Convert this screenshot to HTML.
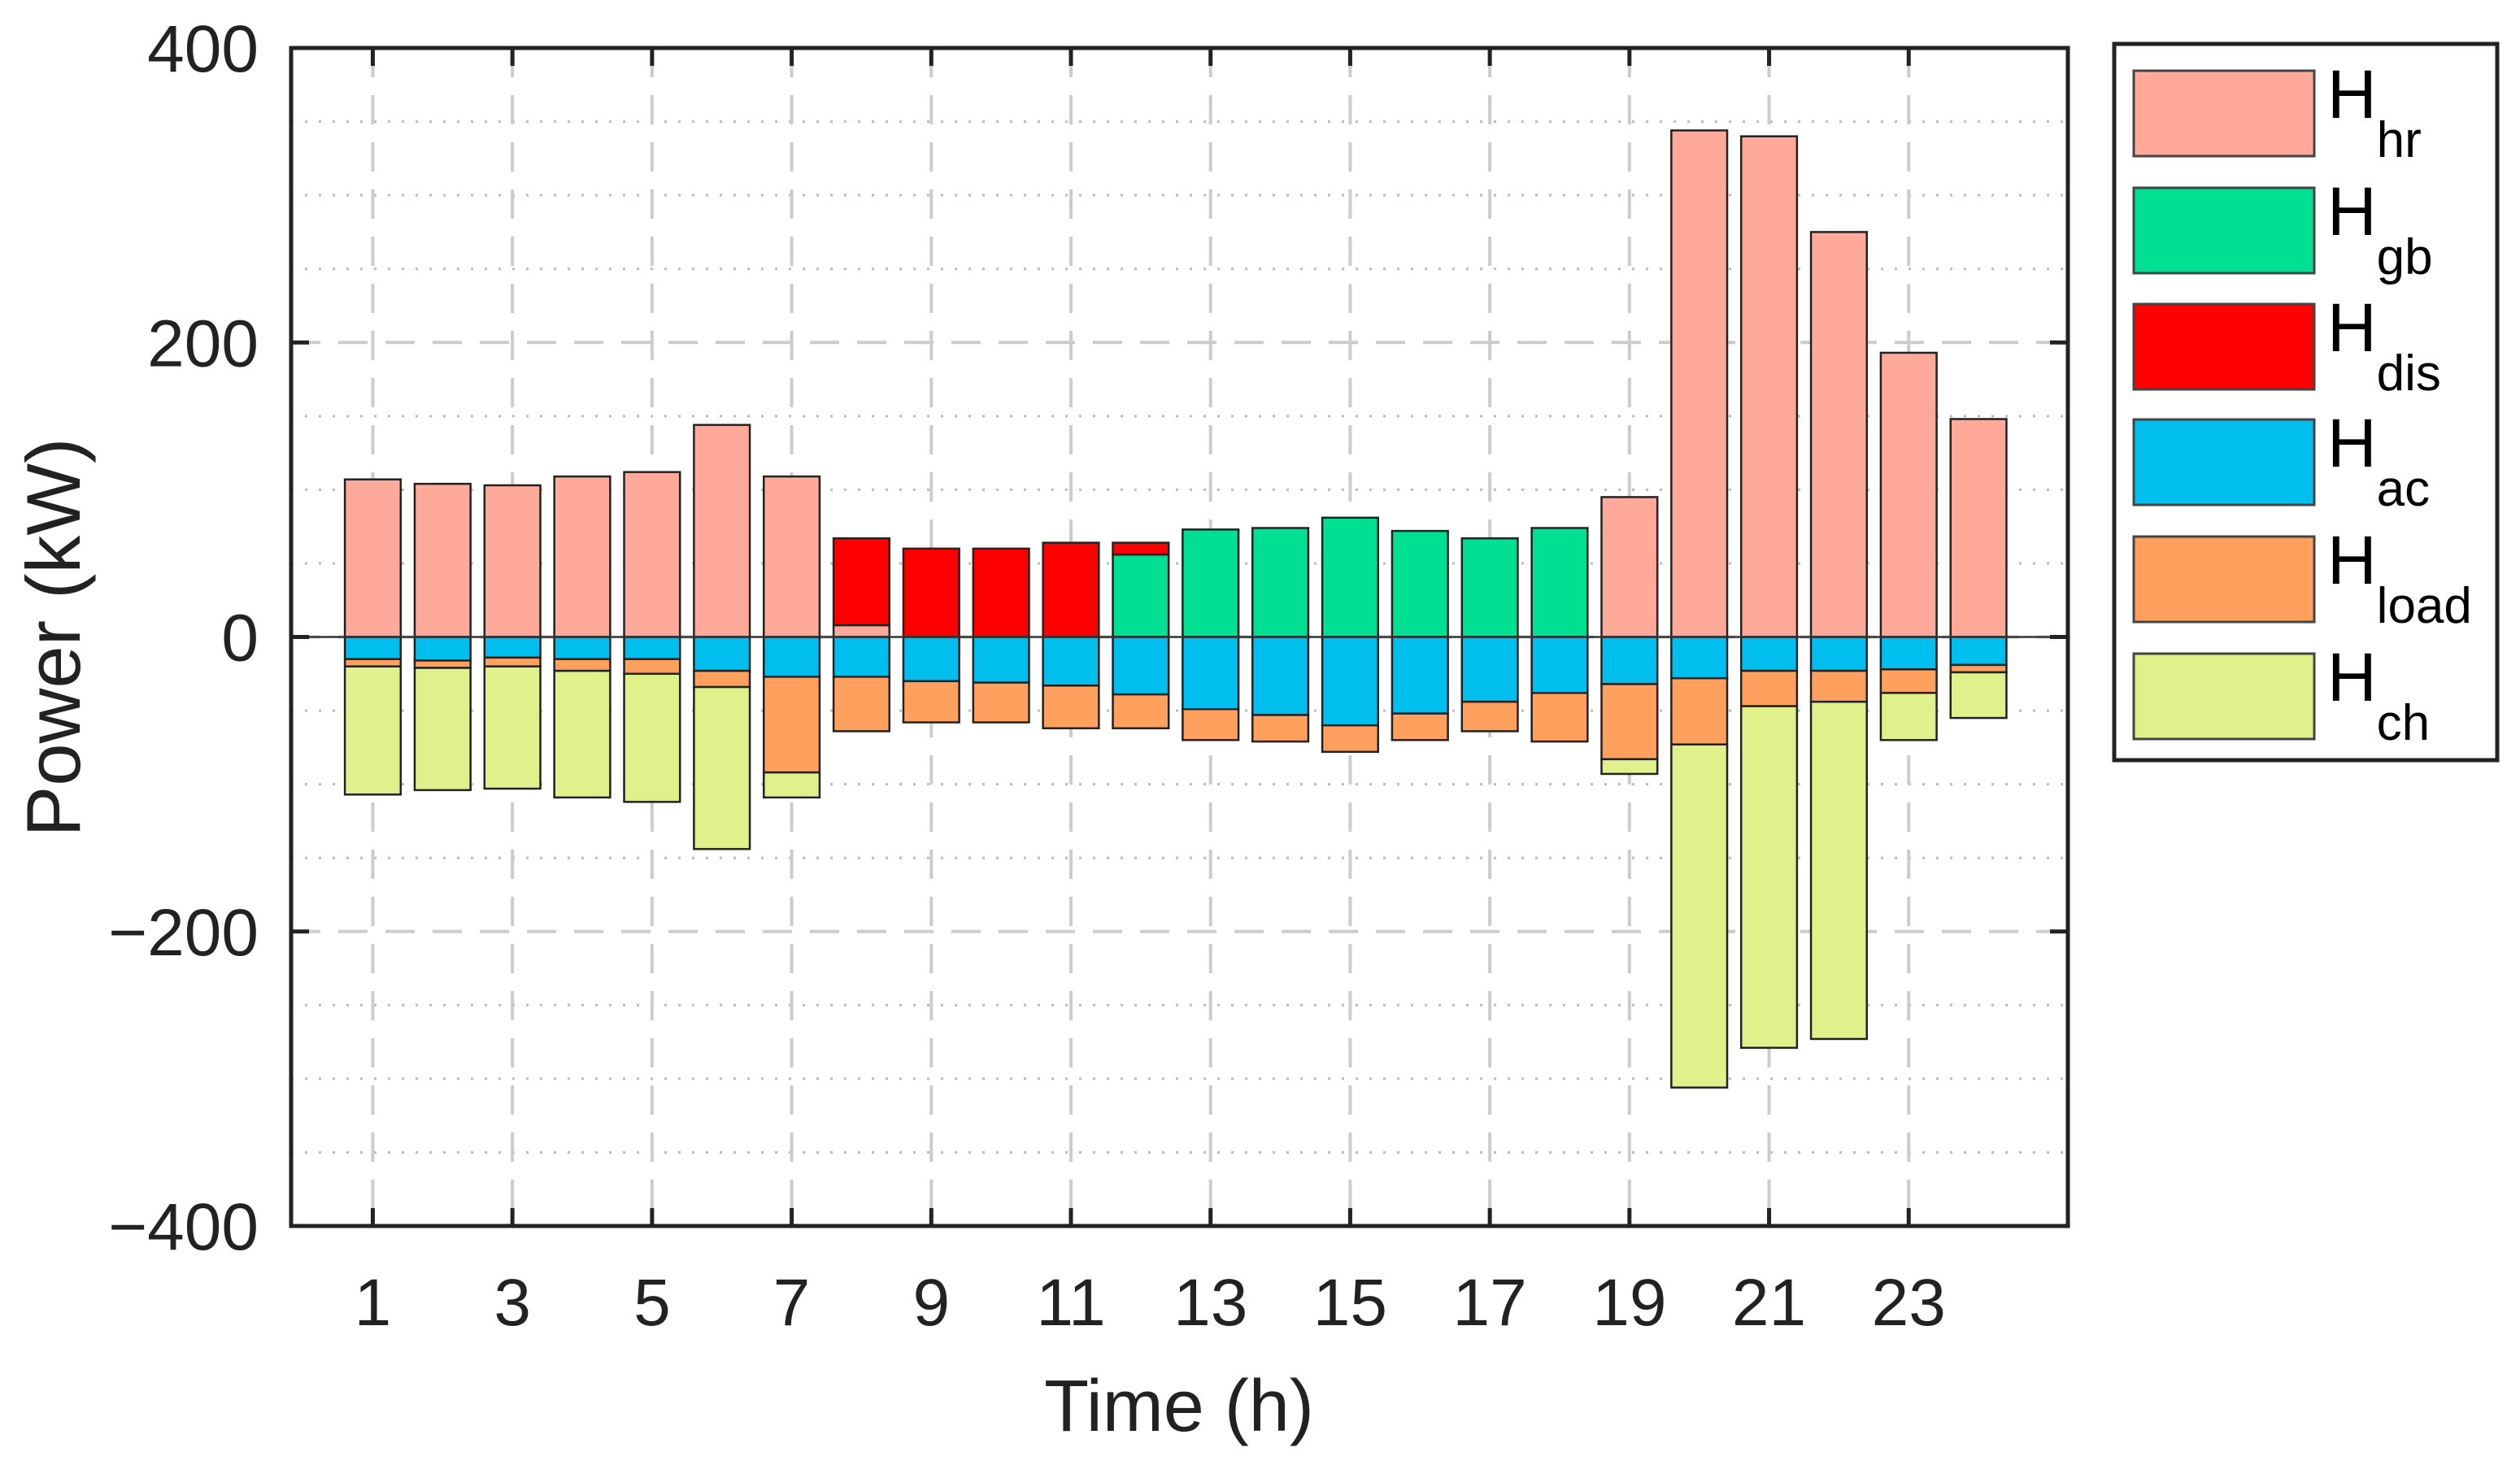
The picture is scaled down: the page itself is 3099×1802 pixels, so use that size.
<!DOCTYPE html>
<html><head><meta charset="utf-8"><style>
html,body{margin:0;padding:0;background:#fff}
svg{display:block;font-family:"Liberation Sans",Arial,sans-serif}
</style></head><body>
<svg id="chart" width="3099" height="1802" viewBox="0 0 3099 1802" xmlns="http://www.w3.org/2000/svg">
<g id="grid"></g>
<g id="bars"></g>
<g id="axes"></g>
<text x="1450" y="1760" font-size="90" text-anchor="middle" fill="#222">Time (h)</text>
<text transform="translate(98,784) rotate(-90)" font-size="94" text-anchor="middle" fill="#222">Power (kW)</text>
<g id="legend"></g>
</svg>
<script>
const hours = [1,2,3,4,5,6,7,8,9,10,11,12,13,14,15,16,17,18,19,20,21,22,23,24];
const Hhr   = [107,104,103,109,112,144,109,8,0,0,0,0,0,0,0,0,0,0,95,344,340,275,193,148];
const Hgb   = [0,0,0,0,0,0,0,0,0,0,0,56,73,74,81,72,67,74,0,0,0,0,0,0];
const Hdis  = [0,0,0,0,0,0,0,59,60,60,64,8,0,0,0,0,0,0,0,0,0,0,0,0];
const Hac   = [15,16,14,15,15,23,27,27,30,31,33,39,49,53,60,52,44,38,32,28,23,23,22,19];
const Hload = [5,5,6,8,10,11,65,37,28,27,29,23,21,18,18,18,20,33,51,45,24,21,16,5];
const Hch   = [87,83,83,86,87,110,17,0,0,0,0,0,0,0,0,0,0,0,10,233,232,229,32,31];
const yTicks = [400,200,0,-200,-400];
const yTickLabels = ["400","200","0","\u2212200","\u2212400"];
const xTicks = [1,3,5,7,9,11,13,15,17,19,21,23];
const seriesNames = ["hr","gb","dis","ac","load","ch"];
const colors = {hr:"#FFA99A",gb:"#00E092",dis:"#FF0000",ac:"#00BFEF",load:"#FFA05E",ch:"#E0F08A"};

const L=358,R=2543,T=59,B=1508;
const xMin=-0.17,xMax=25.28,yMin=-400,yMax=400;
const xs=v=>L+(v-xMin)/(xMax-xMin)*(R-L);
const ys=v=>B-(v-yMin)/(yMax-yMin)*(B-T);
const NS="http://www.w3.org/2000/svg";
function mk(tag,attrs,parent){const e=document.createElementNS(NS,tag);for(const k in attrs)e.setAttribute(k,attrs[k]);parent.appendChild(e);return e;}
const grid=document.getElementById('grid'),bars=document.getElementById('bars'),axes=document.getElementById('axes'),legend=document.getElementById('legend');

for(let v=-350;v<400;v+=50){ if(v%200===0) continue;
  const l=mk('line',{x1:L,x2:R,y1:ys(v),y2:ys(v),stroke:"#bbb","stroke-width":3,"stroke-dasharray":"3 14"},grid);
  
  
}
yTicks.forEach(v=>{ if(v===400||v===-400) return;
  const l=mk('line',{x1:L,x2:R,y1:ys(v),y2:ys(v),stroke:"#ccc","stroke-width":4,"stroke-dasharray":"36 22"},grid);
  
  
});
xTicks.forEach(v=>{
  const l=mk('line',{x1:xs(v),x2:xs(v),y1:T,y2:B,stroke:"#ccc","stroke-width":4,"stroke-dasharray":"36 22"},grid);
  
  
});

const bw=0.8;
hours.forEach((h,i)=>{
  const x0=xs(h-bw/2),w=xs(h+bw/2)-xs(h-bw/2);
  let pos=0;
  [["hr",Hhr],["gb",Hgb],["dis",Hdis]].forEach(([n,a])=>{
    const v=a[i]; if(v<=0) return;
    const r=mk('rect',{x:x0,y:ys(pos+v),width:w,height:ys(pos)-ys(pos+v),fill:colors[n],stroke:"#222","stroke-width":2.5},bars);
    
    
    pos+=v;
  });
  let neg=0;
  [["ac",Hac],["load",Hload],["ch",Hch]].forEach(([n,a])=>{
    const v=a[i]; if(v<=0) return;
    const r=mk('rect',{x:x0,y:ys(neg),width:w,height:ys(neg-v)-ys(neg),fill:colors[n],stroke:"#222","stroke-width":2.5},bars);
    
    
    neg-=v;
  });
});

const zl=mk('line',{x1:L,x2:R,y1:ys(0),y2:ys(0),stroke:"#333","stroke-width":2.5},axes);


const box=mk('rect',{x:L,y:T,width:R-L,height:B-T,fill:"none",stroke:"#222","stroke-width":5},axes);


yTicks.forEach((v,i)=>{
  const t1=mk('line',{x1:L,x2:L+22,y1:ys(v),y2:ys(v),stroke:"#222","stroke-width":5},axes);
  
  
  const t2=mk('line',{x1:R,x2:R-22,y1:ys(v),y2:ys(v),stroke:"#222","stroke-width":5},axes);
  
  
  const tx=mk('text',{x:318,y:ys(v)+29,"font-size":82,"text-anchor":"end",fill:"#222"},axes);
  tx.textContent=yTickLabels[i];
  
  
});
xTicks.forEach(v=>{
  const t1=mk('line',{x1:xs(v),x2:xs(v),y1:B,y2:B-22,stroke:"#222","stroke-width":5},axes);
  
  
  const t2=mk('line',{x1:xs(v),x2:xs(v),y1:T,y2:T+22,stroke:"#222","stroke-width":5},axes);
  
  
  const tx=mk('text',{x:xs(v),y:1630,"font-size":82,"text-anchor":"middle",fill:"#222"},axes);
  tx.textContent=String(v);
  
  
});

const lb=mk('rect',{x:2600,y:54,width:471,height:881,fill:"#fff",stroke:"#222","stroke-width":5},legend);


const rowY=[87,231,374,516,660,804];
seriesNames.forEach((n,i)=>{
  const g=mk('g',{},legend);
  
  
  mk('rect',{x:2624,y:rowY[i],width:222,height:105,fill:colors[n],stroke:"#444","stroke-width":3},g);
  const t=mk('text',{x:2862,y:rowY[i]+58,"font-size":84,fill:"#000"},g);
  t.textContent='H';
  const s=mk('tspan',{dy:48,"font-size":62},t);
  s.textContent=n;
});
</script>
</body></html>
